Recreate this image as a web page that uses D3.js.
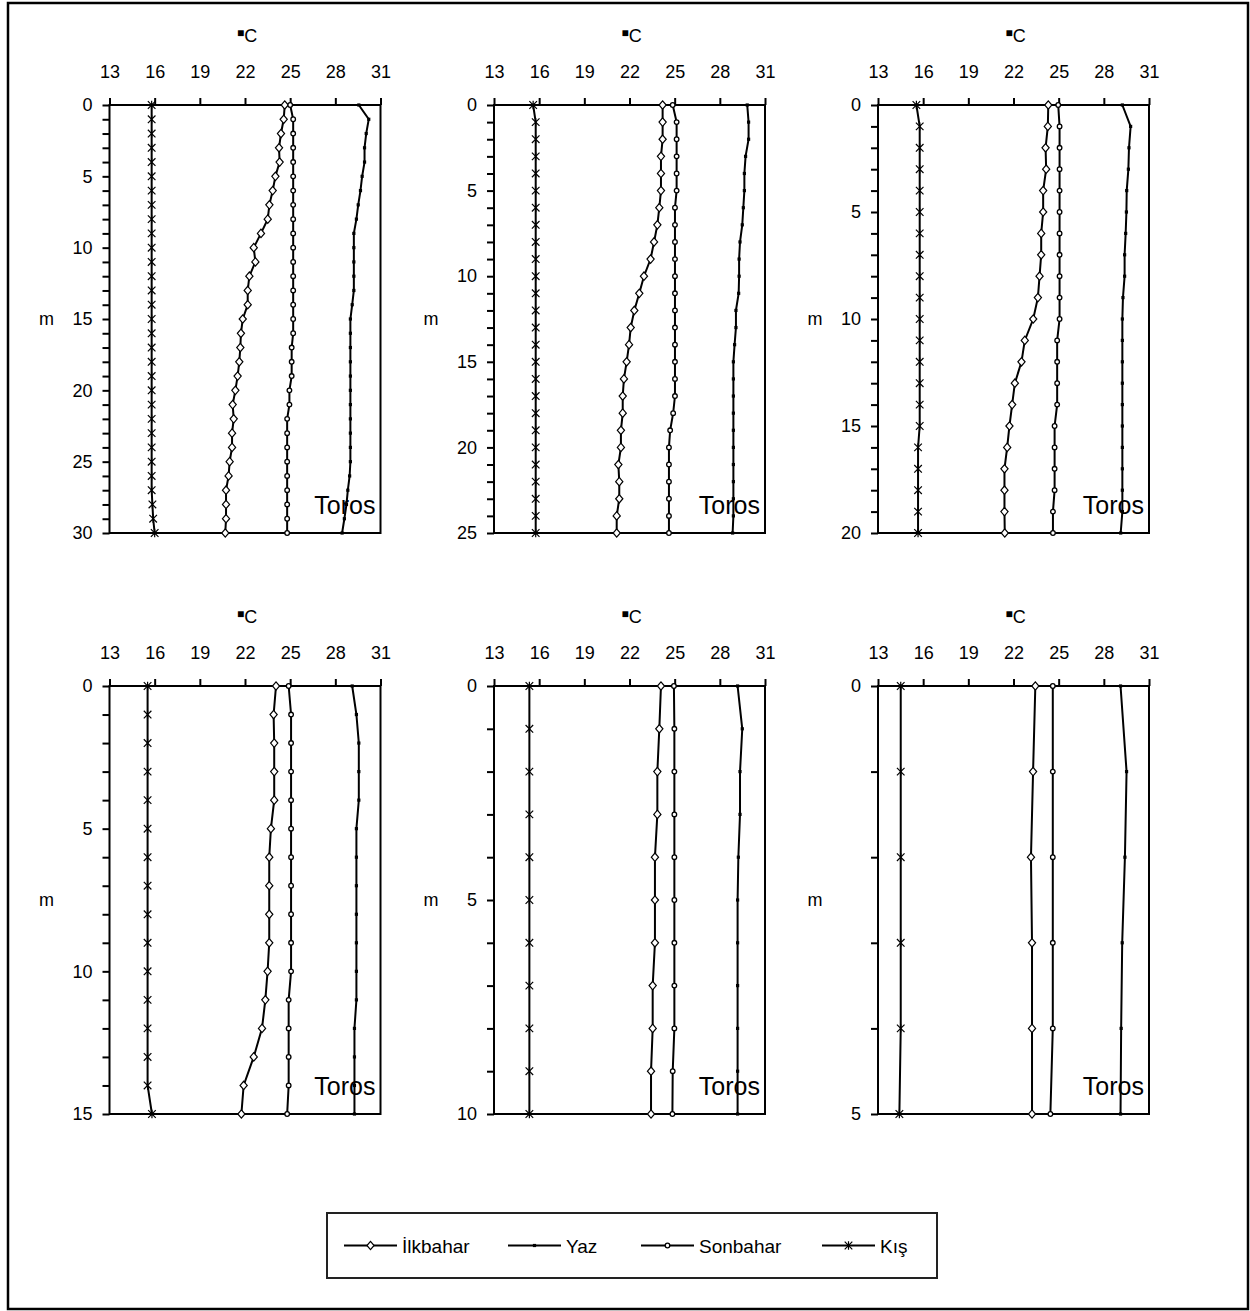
<!DOCTYPE html>
<html><head><meta charset="utf-8">
<script src="https://cdn.jsdelivr.net/npm/d3@7"></script>
<style>
body{margin:0;background:#fff}
svg{display:block}
text{font-family:"Liberation Sans",Arial,Helvetica,sans-serif;fill:#000}
</style>
</head><body>
<svg id="chart" width="1250" height="1311"></svg>
<script>
// ---------- DATA ----------
const seriesNames = ["İlkbahar", "Yaz", "Sonbahar", "Kış"];
const xTickValues = [13, 16, 19, 22, 25, 28, 31];
const xDomain = [13, 31];
const stationName = "Toros";
const yTitle = "m";

// depths (m) per panel
const depth1 = [0,1,2,3,4,5,6,7,8,9,10,11,12,13,14,15,16,17,18,19,20,21,22,23,24,25,26,27,28,29,30];
const depth2 = [0,1,2,3,4,5,6,7,8,9,10,11,12,13,14,15,16,17,18,19,20,21,22,23,24,25];
const depth3 = [0,1,2,3,4,5,6,7,8,9,10,11,12,13,14,15,16,17,18,19,20];
const depth4 = [0,1,2,3,4,5,6,7,8,9,10,11,12,13,14,15];
const depth5 = [0,1,2,3,4,5,6,7,8,9,10];
const depth6 = [0,1,2,3,4,5];
const yMaxValues = [30, 25, 20, 15, 10, 5];

// Panel 1 (0-30 m)
const ilkbahar1 = [24.64,24.57,24.39,24.26,24.30,24.02,23.84,23.62,23.51,23.06,22.58,22.69,22.29,22.18,22.18,21.85,21.73,21.69,21.62,21.51,21.36,21.18,21.25,21.14,21.14,20.98,20.91,20.74,20.74,20.74,20.69];
const yaz1 = [29.56,30.22,30.05,29.94,29.94,29.78,29.67,29.52,29.40,29.23,29.23,29.23,29.23,29.23,29.12,29.00,29.00,29.00,29.00,29.00,29.00,29.00,29.00,29.00,29.00,29.00,28.95,28.83,28.74,28.60,28.45];
const sonbahar1 = [25.00,25.20,25.20,25.20,25.20,25.20,25.20,25.20,25.20,25.20,25.20,25.20,25.20,25.20,25.20,25.20,25.20,25.10,25.10,25.10,24.95,24.95,24.80,24.80,24.80,24.80,24.80,24.80,24.80,24.80,24.80];
const kis1 = [15.80,15.80,15.80,15.80,15.80,15.80,15.80,15.80,15.80,15.80,15.80,15.80,15.80,15.80,15.80,15.80,15.80,15.80,15.80,15.80,15.80,15.80,15.80,15.80,15.80,15.80,15.80,15.80,15.85,15.90,16.00];

// Panel 2 (0-25 m)
const ilkbahar2 = [24.20,24.20,24.20,24.09,24.09,24.09,23.98,23.85,23.63,23.40,22.96,22.65,22.32,22.08,21.97,21.81,21.63,21.55,21.55,21.43,21.43,21.26,21.32,21.32,21.15,21.15];
const yaz2 = [29.82,29.91,29.91,29.71,29.63,29.63,29.56,29.49,29.34,29.28,29.28,29.25,29.07,29.07,28.98,28.90,28.90,28.90,28.90,28.90,28.90,28.90,28.90,28.90,28.90,28.85];
const sonbahar2 = [24.87,25.13,25.13,25.13,25.13,25.13,25.02,25.02,25.02,25.02,25.02,25.02,25.02,25.02,25.02,25.02,25.02,25.02,24.90,24.70,24.62,24.62,24.62,24.62,24.62,24.62];
const kis2 = [15.60,15.77,15.77,15.77,15.77,15.77,15.77,15.77,15.77,15.77,15.77,15.77,15.77,15.77,15.77,15.77,15.77,15.77,15.77,15.77,15.77,15.77,15.77,15.77,15.77,15.77];

// Panel 3 (0-20 m)
const ilkbahar3 = [24.31,24.28,24.13,24.17,23.97,23.97,23.84,23.84,23.73,23.62,23.31,22.75,22.53,22.09,21.91,21.73,21.58,21.40,21.40,21.40,21.42];
const yaz3 = [29.23,29.78,29.67,29.63,29.52,29.50,29.45,29.38,29.38,29.27,29.23,29.23,29.23,29.23,29.23,29.23,29.23,29.23,29.23,29.23,29.12];
const sonbahar3 = [24.97,25.06,25.06,25.06,25.06,25.06,25.06,25.06,25.06,25.06,25.06,24.90,24.90,24.90,24.90,24.73,24.73,24.73,24.73,24.62,24.62];
const kis3 = [15.55,15.77,15.77,15.77,15.77,15.77,15.77,15.77,15.77,15.77,15.77,15.77,15.77,15.77,15.77,15.77,15.66,15.66,15.66,15.66,15.66];

// Panel 4 (0-15 m)
const ilkbahar4 = [24.06,23.90,23.94,23.94,23.94,23.72,23.61,23.61,23.61,23.61,23.50,23.35,23.13,22.58,21.91,21.76];
const yaz4 = [29.12,29.40,29.56,29.56,29.56,29.40,29.40,29.40,29.40,29.40,29.40,29.40,29.27,29.27,29.27,29.27];
const sonbahar4 = [24.90,25.06,25.06,25.06,25.06,25.06,25.06,25.06,25.06,25.06,25.06,24.90,24.90,24.90,24.90,24.80];
const kis4 = [15.53,15.53,15.53,15.53,15.53,15.53,15.53,15.53,15.53,15.53,15.53,15.53,15.53,15.53,15.53,15.82];

// Panel 5 (0-10 m)
const ilkbahar5 = [24.09,23.98,23.85,23.85,23.69,23.69,23.69,23.54,23.54,23.43,23.43];
const yaz5 = [29.18,29.49,29.34,29.34,29.23,29.18,29.18,29.18,29.18,29.18,29.18];
const sonbahar5 = [24.95,24.98,24.98,24.98,24.98,24.98,24.98,24.98,24.98,24.87,24.85];
const kis5 = [15.35,15.35,15.35,15.35,15.35,15.35,15.35,15.35,15.35,15.35,15.35];

// Panel 6 (0-5 m)
const ilkbahar6 = [23.45,23.30,23.16,23.23,23.23,23.23];
const yaz6 = [29.11,29.51,29.40,29.22,29.15,29.11];
const sonbahar6 = [24.61,24.61,24.61,24.61,24.61,24.45];
const kis6 = [14.51,14.51,14.51,14.51,14.51,14.42];

// ---------- LAYOUT ----------
const panelData = [
  {depth: depth1, yMax: yMaxValues[0], series: [ilkbahar1, yaz1, sonbahar1, kis1]},
  {depth: depth2, yMax: yMaxValues[1], series: [ilkbahar2, yaz2, sonbahar2, kis2]},
  {depth: depth3, yMax: yMaxValues[2], series: [ilkbahar3, yaz3, sonbahar3, kis3]},
  {depth: depth4, yMax: yMaxValues[3], series: [ilkbahar4, yaz4, sonbahar4, kis4]},
  {depth: depth5, yMax: yMaxValues[4], series: [ilkbahar5, yaz5, sonbahar5, kis5]},
  {depth: depth6, yMax: yMaxValues[5], series: [ilkbahar6, yaz6, sonbahar6, kis6]}
];
const colLefts = [109.5, 494, 878];
const rowTops = [105, 686];
const plotW = 271, plotH = 428;

const svg = d3.select("#chart");

// outer frame
svg.append("rect").attr("x", 8).attr("y", 3).attr("width", 1240).attr("height", 1306)
  .attr("fill", "none").attr("stroke", "#000").attr("stroke-width", 2.5);

// marker drawers
function drawMarker(g, type, cx, cy) {
  if (type === 0) {
    g.append("path").attr("d", `M${cx},${cy-4.2}L${cx+3.6},${cy}L${cx},${cy+4.2}L${cx-3.6},${cy}Z`)
      .attr("fill", "#fff").attr("stroke", "#000").attr("stroke-width", 1.2);
  } else if (type === 1) {
    g.append("rect").attr("x", cx-1.6).attr("y", cy-1.6).attr("width", 3.2).attr("height", 3.2).attr("fill", "#000");
  } else if (type === 2) {
    g.append("circle").attr("cx", cx).attr("cy", cy).attr("r", 2.3)
      .attr("fill", "#fff").attr("stroke", "#000").attr("stroke-width", 1.3);
  } else {
    g.append("path").attr("d", `M${cx-3.8},${cy-3.8}L${cx+3.8},${cy+3.8}M${cx-3.8},${cy+3.8}L${cx+3.8},${cy-3.8}M${cx},${cy-4.2}L${cx},${cy+4.2}`)
      .attr("fill", "none").attr("stroke", "#000").attr("stroke-width", 1.2);
  }
}

panelData.forEach((p, i) => {
  const col = i % 3, row = Math.floor(i / 3);
  const left = colLefts[col], top = rowTops[row];
  const x = d3.scaleLinear().domain(xDomain).range([left, left + plotW]);
  const y = d3.scaleLinear().domain([0, p.yMax]).range([top, top + plotH]);
  const g = svg.append("g");

  // title
  const t = g.append("text").attr("x", left + plotW / 2 + 2).attr("y", top - 63)
    .attr("text-anchor", "middle").attr("font-size", 18);
  t.append("tspan").attr("font-size", 12).attr("dy", -5).text("■");
  t.append("tspan").attr("dy", 5).text("C");

  // x axis (top)
  const xAxis = d3.axisTop(x).tickValues(xTickValues).tickSize(7).tickPadding(20).tickFormat(d3.format("d"));
  const xg = g.append("g").attr("transform", `translate(0,${top})`).call(xAxis);
  xg.select(".domain").remove();
  xg.selectAll(".tick line").attr("stroke", "#000").attr("stroke-width", 2);
  xg.selectAll(".tick text").attr("font-size", 18).attr("font-family", "Liberation Sans, Arial, sans-serif").attr("fill", "#000");

  // y axis (left)
  const yAxis = d3.axisLeft(y).tickValues(p.depth).tickSize(7).tickPadding(10)
    .tickFormat(d => d % 5 === 0 ? d : "");
  const yg = g.append("g").attr("transform", `translate(${left},0)`).call(yAxis);
  yg.select(".domain").remove();
  yg.selectAll(".tick line").attr("stroke", "#000").attr("stroke-width", 2);
  yg.selectAll(".tick text").attr("font-size", 18).attr("font-family", "Liberation Sans, Arial, sans-serif").attr("fill", "#000");

  // y title
  g.append("text").attr("x", left - 63).attr("y", top + plotH / 2 + 6)
    .attr("text-anchor", "middle").attr("font-size", 18).text(yTitle);

  // station label
  g.append("text").attr("x", left + plotW - 5).attr("y", top + plotH - 19)
    .attr("text-anchor", "end").attr("font-size", 25).text(stationName);

  // frame
  g.append("rect").attr("x", left).attr("y", top).attr("width", plotW).attr("height", plotH)
    .attr("fill", "none").attr("stroke", "#000").attr("stroke-width", 2);

  // series
  p.series.forEach((vals, si) => {
    const pts = vals.map((v, k) => [v, p.depth[k]]);
    const line = d3.line().x(d => x(d[0])).y(d => y(d[1]));
    g.append("path").datum(pts).attr("d", line).attr("fill", "none")
      .attr("stroke", "#000").attr("stroke-width", 2);
    const mg = g.append("g");
    pts.forEach(d => drawMarker(mg, si, x(d[0]), y(d[1])));
  });
});

// legend
const legendBox = {x: 327, y: 1213, w: 610, h: 65};
svg.append("rect").attr("x", legendBox.x).attr("y", legendBox.y).attr("width", legendBox.w).attr("height", legendBox.h)
  .attr("fill", "none").attr("stroke", "#222").attr("stroke-width", 2);
const legendLineStarts = [344, 508, 641, 822];
const lg = svg.append("g");
const ly = legendBox.y + legendBox.h / 2;
seriesNames.forEach((name, i) => {
  const x0 = legendLineStarts[i];
  lg.append("line").attr("x1", x0).attr("x2", x0 + 53).attr("y1", ly).attr("y2", ly)
    .attr("stroke", "#000").attr("stroke-width", 2);
  drawMarker(lg, i, x0 + 26.5, ly);
  lg.append("text").attr("x", x0 + 58).attr("y", ly + 7).attr("font-size", 19).text(name);
});
</script>
</body></html>
